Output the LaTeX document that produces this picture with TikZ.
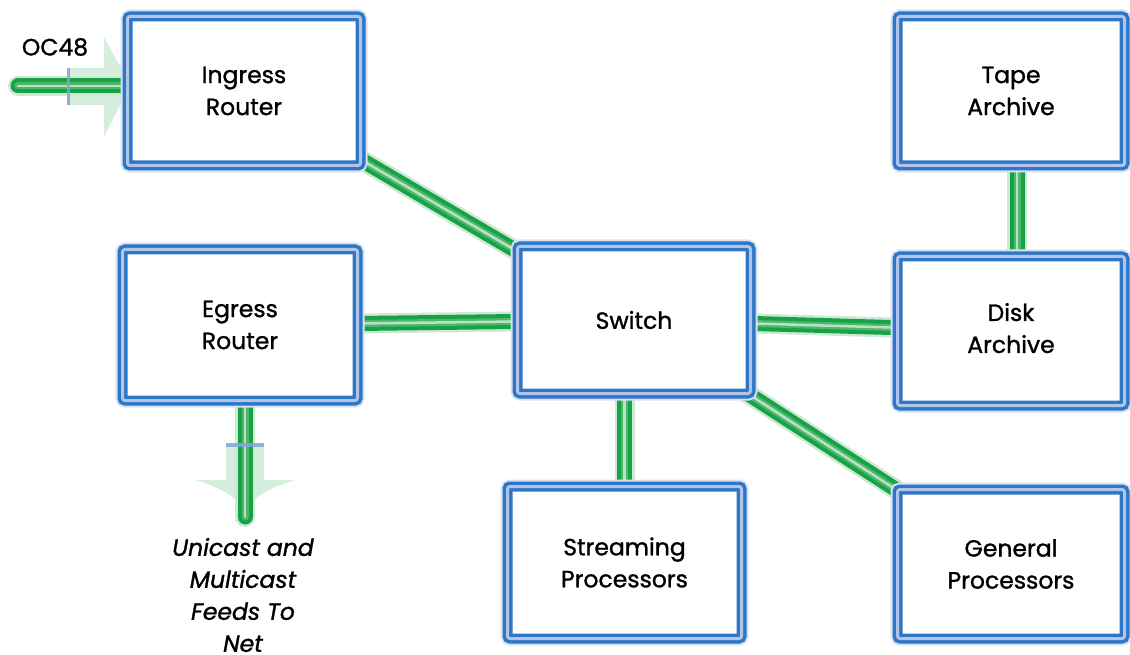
\documentclass[tikz,border=0pt]{standalone}
\usepackage{fontspec}
\setmainfont{Poppins}[UprightFeatures={FakeBold=1.2}, ItalicFeatures={FakeBold=1.2}]
\usetikzlibrary{calc}
\definecolor{boxblue}{HTML}{2F77C6}
\definecolor{boxlight}{HTML}{B3C4EA}
\definecolor{boxglow}{HTML}{D6E2F4}
\definecolor{tubegreen}{HTML}{18A247}
\definecolor{tubemid}{HTML}{4DB86C}
\definecolor{tubehi}{HTML}{B8E2C2}
\definecolor{tubeglow}{HTML}{CDE9D3}
\definecolor{arrowfill}{HTML}{D4EDDC}
\definecolor{tickblue}{HTML}{7FA6D8}
\tikzset{
 netbox/.style={rectangle, rounded corners=2.5pt, fill=white, draw=boxblue,
   line width=3.5pt, double=boxlight, double distance=3pt,
   preaction={draw=boxglow, line width=14pt},
   align=center, font=\fontsize{23.5}{32}\selectfont, inner sep=0pt},
 tube/.style={line cap=round, draw=tubegreen, line width=15pt,
   preaction={draw=tubeglow, line width=20pt, line cap=round},
   postaction={draw=tubemid, line width=7pt, line cap=round},
   postaction={draw=tubehi, line width=2.5pt, line cap=round}},
 lbl/.style={align=center, font=\fontsize{23.5}{32}\selectfont},
}
\begin{document}
\begin{tikzpicture}[x=1pt,y=-1pt]
\useasboundingbox (0,0) rectangle (1130,655);
% arrow shapes
\fill[arrowfill] (68,68) -- (104,68) -- (104,37) .. controls (112,52) and (118,64) .. (126,74) -- (126,98) .. controls (118,108) and (112,120) .. (104,137) -- (104,105) -- (68,105) -- cycle;
\fill[arrowfill] (226,445) -- (226,480) -- (196,480) .. controls (215,486) and (232,494) .. (245,508) .. controls (258,494) and (275,486) .. (295,480) -- (264,480) -- (264,445) -- cycle;
% coordinates of node centres
\coordinate (cIng) at (244,91);
\coordinate (cEg) at (240,325);
\coordinate (cSw) at (634,320);
\coordinate (cSt) at (624.5,562.5);
\coordinate (cTa) at (1011,91);
\coordinate (cDi) at (1011,331);
\coordinate (cGe) at (1011,564);
\coordinate (ocin) at (18,86);
\coordinate (netout) at (245,517);
% tubes
\draw[tube] (cIng) -- (cSw);
\draw[tube] (cEg) -- (cSw);
\draw[tube] (cSw) -- (cDi);
\draw[tube] (cSw) -- (cGe);
\draw[tube] (cSt) -- (cSt |- cSw);
\draw[tube] ($(cTa)+(6,0)$) -- ($(cDi)+(6,0)$);
\draw[tube] (ocin) -- (ocin -| cIng);
\draw[tube] (netout |- cEg) -- (netout);
% ticks
\fill[tickblue, opacity=0.85] (66.5,68) rectangle (70,105);
\fill[tickblue, opacity=0.85] (226,443) rectangle (264,447);
% boxes
\node[netbox, minimum width=233pt, minimum height=149pt] (ingress) at (cIng) {Ingress\\Router};
\node[netbox, minimum width=235pt, minimum height=151pt] (egress) at (cEg) {Egress\\Router};
\node[netbox, minimum width=233pt, minimum height=147pt] (switch) at (cSw) {Switch};
\node[netbox, minimum width=234pt, minimum height=152pt] (stream) at (cSt) {Streaming\\Processors};
\node[netbox, minimum width=227pt, minimum height=149pt] (tape) at (cTa) {Tape\\Archive};
\node[netbox, minimum width=227pt, minimum height=149pt, text depth=6pt] (disk) at (cDi) {Disk\\Archive};
\node[netbox, minimum width=227pt, minimum height=149pt] (general) at (cGe) {General\\Processors};
% labels
\node[lbl] (oc48) at (55,47) {OC48};
\node[lbl, font=\fontsize{23.5}{32}\selectfont\itshape] (feeds) at (243,595) {Unicast and\\Multicast\\Feeds To\\Net};
\end{tikzpicture}
\end{document}
